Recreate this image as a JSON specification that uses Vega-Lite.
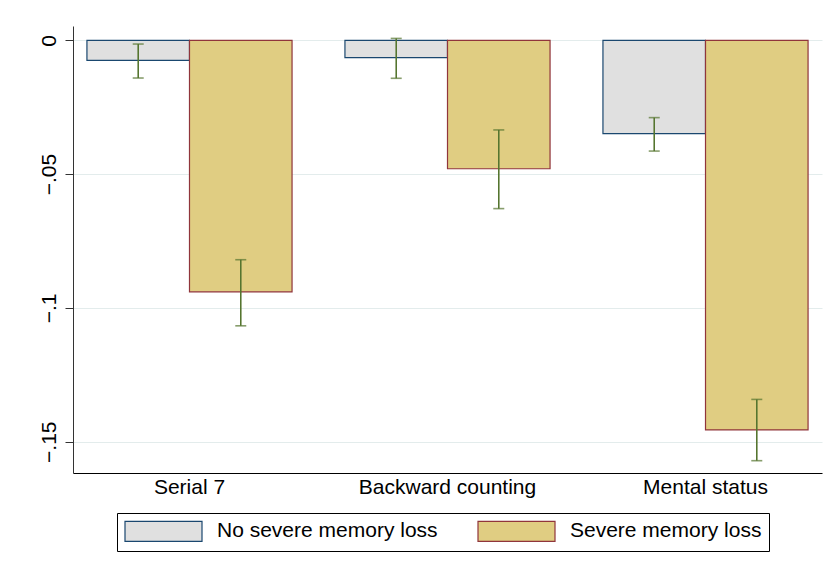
{
  "$schema": "https://vega.github.io/schema/vega-lite/v6.json",
  "width": 749,
  "height": 447,
  "autosize": "none",
  "padding": {"left": 73, "top": 26, "right": 12, "bottom": 96},
  "background": "white",
  "config": {
    "font": "Liberation Sans",
    "view": {"stroke": null},
    "legend": {
      "orient": "none",
      "legendX": 44,
      "legendY": 487,
      "direction": "horizontal",
      "columns": 2,
      "strokeColor": "black",
      "strokeWidth": 1,
      "fillColor": "white",
      "padding": 7,
      "symbolType": "M-1,-1H6.7V1H-1Z",
      "symbolSize": 400,
      "symbolStrokeWidth": 1.2,
      "symbolOpacity": 1,
      "labelFontSize": 21,
      "labelColor": "black",
      "labelOffset": 71,
      "columnPadding": 37,
      "labelLimit": 400
    }
  },
  "data": {
    "values": [
      {"test": "Serial 7", "group": "No severe memory loss", "value": -0.0075, "lo": -0.0141, "hi": -0.0014},
      {"test": "Serial 7", "group": "Severe memory loss", "value": -0.094, "lo": -0.1067, "hi": -0.082},
      {"test": "Backward counting", "group": "No severe memory loss", "value": -0.0065, "lo": -0.0142, "hi": 0.0007},
      {"test": "Backward counting", "group": "Severe memory loss", "value": -0.048, "lo": -0.0629, "hi": -0.0335},
      {"test": "Mental status", "group": "No severe memory loss", "value": -0.0349, "lo": -0.0414, "hi": -0.0289},
      {"test": "Mental status", "group": "Severe memory loss", "value": -0.1456, "lo": -0.1571, "hi": -0.1342}
    ]
  },
  "encoding": {
    "x": {
      "field": "test",
      "type": "nominal",
      "sort": ["Serial 7", "Backward counting", "Mental status"],
      "scale": {"paddingInner": 0.205, "paddingOuter": 0.054},
      "axis": {
        "title": null,
        "labelAngle": 0,
        "labelFontSize": 21,
        "labelColor": "black",
        "labelPadding": 3,
        "ticks": false,
        "domainColor": "black",
        "domainWidth": 1,
        "grid": false
      }
    },
    "xOffset": {
      "field": "group",
      "type": "nominal",
      "scale": {"paddingInner": 0, "paddingOuter": 0}
    }
  },
  "layer": [
    {
      "mark": {"type": "bar", "strokeWidth": 1.2},
      "encoding": {
        "y": {
          "field": "value",
          "type": "quantitative",
          "scale": {"domain": [-0.1617, 0.00534], "nice": false, "zero": false},
          "axis": {
            "title": null,
            "values": [0, -0.05, -0.1, -0.15],
            "labelExpr": "datum.value == 0 ? '0' : replace(format(datum.value, '.2~f'), '0.', '.')",
            "labelAngle": -90,
            "labelAlign": "center",
            "labelBaseline": "bottom",
            "labelFontSize": 21,
            "labelColor": "black",
            "labelPadding": 6,
            "tickSize": 8,
            "tickColor": "#333333",
            "domainColor": "#333333",
            "grid": true,
            "gridColor": "#e3ecec",
            "gridWidth": 1
          }
        },
        "fill": {
          "field": "group",
          "type": "nominal",
          "scale": {"domain": ["No severe memory loss", "Severe memory loss"], "range": ["#e0e0e0", "#e0cd82"]},
          "legend": {"title": null}
        },
        "stroke": {
          "field": "group",
          "type": "nominal",
          "scale": {"domain": ["No severe memory loss", "Severe memory loss"], "range": ["#1a476f", "#90353b"]},
          "legend": {"title": null}
        }
      }
    },
    {
      "mark": {"type": "rule", "color": "#55752f", "strokeWidth": 1.6},
      "encoding": {
        "y": {"field": "lo", "type": "quantitative"},
        "y2": {"field": "hi"}
      }
    },
    {
      "mark": {"type": "tick", "color": "#55752f", "size": 11, "thickness": 1.6, "orient": "horizontal"},
      "encoding": {
        "y": {"field": "lo", "type": "quantitative"}
      }
    },
    {
      "mark": {"type": "tick", "color": "#55752f", "size": 11, "thickness": 1.6, "orient": "horizontal"},
      "encoding": {
        "y": {"field": "hi", "type": "quantitative"}
      }
    }
  ]
}
